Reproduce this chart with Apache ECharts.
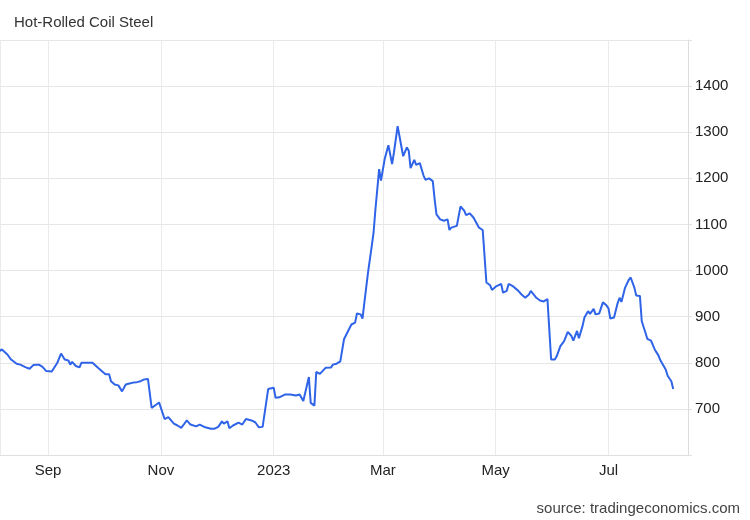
<!DOCTYPE html>
<html>
<head>
<meta charset="utf-8">
<script src="https://cdn.jsdelivr.net/npm/echarts@6/dist/echarts.min.js"></script>
<style>
html,body{margin:0;padding:0;background:#fff;}
#chart{width:750px;height:520px;}
</style>
</head>
<body>
<div id="chart"></div>
<script>
var titleText = 'Hot-Rolled Coil Steel';
var sourceText = 'source: tradingeconomics.com';
var monthNames = ['Jan','Feb','Mar','Apr','May','Jun','Jul','Aug','Sep','Oct','Nov','Dec'];
var yTicks = [700, 800, 900, 1000, 1100, 1200, 1300, 1400];

var dates = [
'2022-08-05','2022-08-07','2022-08-10','2022-08-12','2022-08-15','2022-08-17','2022-08-20','2022-08-22','2022-08-24','2022-08-27',
'2022-08-29','2022-08-31','2022-09-03','2022-09-04','2022-09-06','2022-09-08','2022-09-10','2022-09-12','2022-09-13','2022-09-14',
'2022-09-16','2022-09-18','2022-09-19','2022-09-22','2022-09-23','2022-09-25','2022-09-26','2022-09-28','2022-09-30','2022-10-02',
'2022-10-04','2022-10-05','2022-10-07','2022-10-09','2022-10-11','2022-10-13','2022-10-15','2022-10-17','2022-10-19','2022-10-21',
'2022-10-23','2022-10-24','2022-10-25','2022-10-27','2022-10-28','2022-10-31','2022-11-01','2022-11-03','2022-11-05','2022-11-06',
'2022-11-08','2022-11-10','2022-11-12','2022-11-13','2022-11-15','2022-11-17','2022-11-20','2022-11-22','2022-11-25','2022-11-28',
'2022-11-30','2022-12-02','2022-12-04','2022-12-05','2022-12-07','2022-12-08','2022-12-10','2022-12-13','2022-12-15','2022-12-17',
'2022-12-20','2022-12-22','2022-12-24','2022-12-26','2022-12-27','2022-12-29','2023-01-01','2023-01-02','2023-01-04','2023-01-07',
'2023-01-10','2023-01-13','2023-01-14','2023-01-15','2023-01-17','2023-01-18','2023-01-20','2023-01-21','2023-01-23','2023-01-24',
'2023-01-26','2023-01-27','2023-01-29','2023-02-01','2023-02-02','2023-02-04','2023-02-05','2023-02-06','2023-02-08','2023-02-09',
'2023-02-10','2023-02-12','2023-02-14','2023-02-15','2023-02-17','2023-02-18','2023-02-19','2023-02-21','2023-02-23','2023-02-24',
'2023-02-25','2023-02-27','2023-02-28','2023-03-02','2023-03-03','2023-03-04','2023-03-06','2023-03-07','2023-03-09','2023-03-12',
'2023-03-14','2023-03-15','2023-03-16','2023-03-18','2023-03-19','2023-03-21','2023-03-23','2023-03-24','2023-03-26','2023-03-28',
'2023-03-29','2023-03-30','2023-04-01','2023-04-03','2023-04-05','2023-04-06','2023-04-07','2023-04-10','2023-04-12','2023-04-14',
'2023-04-15','2023-04-17','2023-04-19','2023-04-20','2023-04-22','2023-04-24','2023-04-25','2023-04-26','2023-04-28','2023-04-29',
'2023-05-01','2023-05-02','2023-05-04','2023-05-05','2023-05-07','2023-05-08','2023-05-10','2023-05-13','2023-05-15','2023-05-17',
'2023-05-19','2023-05-20','2023-05-21','2023-05-23','2023-05-25','2023-05-26','2023-05-27','2023-05-29','2023-05-30','2023-05-31',
'2023-06-02','2023-06-03','2023-06-05','2023-06-07','2023-06-08','2023-06-09','2023-06-11','2023-06-12','2023-06-14','2023-06-15',
'2023-06-17','2023-06-18','2023-06-20','2023-06-21','2023-06-23','2023-06-24','2023-06-26','2023-06-27','2023-06-28','2023-06-30',
'2023-07-01','2023-07-02','2023-07-04','2023-07-06','2023-07-07','2023-07-08','2023-07-10','2023-07-12','2023-07-13','2023-07-15',
'2023-07-16','2023-07-18','2023-07-19','2023-07-21','2023-07-22','2023-07-24','2023-07-25','2023-07-26','2023-07-28','2023-07-29',
'2023-07-30','2023-08-01','2023-08-02','2023-08-04','2023-08-05'
];

var prices = [
823,829,818,807,798,796,790,787,795,796,
791,782,781,777,800,820,807,805,796,802,
793,790,800,800,803,800,803,789,782,775,
775,760,753,751,738,753,755,757,758,760,
764,760,765,702,698,714,712,678,682,678,
668,664,659,664,675,666,662,666,660,657,
657,661,673,668,673,658,664,670,666,678,
675,671,660,661,658,743,746,724,725,731,
731,729,727,731,717,719,769,713,707,780,
776,777,789,790,796,798,795,803,851,859,
861,883,887,907,905,896,930,996,1053,1083,
1133,1220,1195,1242,1239,1272,1231,1256,1313,1248,
1267,1260,1222,1240,1229,1233,1206,1197,1200,1194,
1155,1122,1111,1108,1111,1088,1093,1097,1139,1130,
1120,1124,1115,1117,1093,1088,1088,974,968,958,
965,961,971,952,956,971,967,957,948,941,
948,956,952,941,935,936,933,938,938,807,
807,814,836,847,851,867,858,848,869,853,
880,898,912,906,917,905,907,908,931,924,
918,896,898,930,941,932,963,980,985,963,
946,945,890,865,852,848,852,829,816,806,
802,785,772,760,743
];

var seriesData = dates.map(function (d, i) { return [d, prices[i]]; });

var chart = echarts.init(document.getElementById('chart'), null, {renderer: 'canvas'});
chart.setOption({
  animation: false,
  backgroundColor: '#ffffff',
  title: [
    { text: titleText, left: 9, top: 10,
      textStyle: { fontFamily: 'Liberation Sans, Arial, sans-serif', fontSize: 15, fontWeight: 'normal', color: '#333333' } },
    { text: sourceText, right: 5, top: 496,
      textStyle: { fontFamily: 'Liberation Sans, Arial, sans-serif', fontSize: 15, fontWeight: 'normal', color: '#444444' } }
  ],
  grid: { left: -1, right: 62, top: 40, bottom: 65, containLabel: false },
  xAxis: {
    type: 'time',
    min: '2022-08-06',
    max: '2023-08-13',
    splitNumber: 5,
    axisLine: { show: true, lineStyle: { color: '#e0e0e0', width: 1 } },
    axisTick: { show: false },
    splitLine: { show: true, lineStyle: { color: '#ebebeb', width: 1 } },
    minorSplitLine: { show: false },
    axisLabel: {
      margin: 8,
      fontFamily: 'Liberation Sans, Arial, sans-serif',
      fontSize: 15,
      color: '#222222',
      showMinLabel: false,
      showMaxLabel: false,
      formatter: function (value) {
        var d = new Date(value);
        if (d.getMonth() === 0) return String(d.getFullYear());
        return monthNames[d.getMonth()];
      }
    }
  },
  yAxis: {
    type: 'value',
    position: 'right',
    min: 600,
    max: 1500,
    interval: 100,
    axisLine: { show: true, lineStyle: { color: '#dcdcdc', width: 1 } },
    axisTick: { show: true, length: 4, lineStyle: { color: '#e0e0e0' } },
    splitLine: { show: true, lineStyle: { color: '#e6e6e6', width: 1 } },
    axisLabel: {
      margin: 7,
      fontFamily: 'Liberation Sans, Arial, sans-serif',
      fontSize: 15,
      color: '#222222',
      formatter: function (v) { return yTicks.indexOf(v) >= 0 ? String(v) : ''; }
    }
  },
  series: [{
    type: 'line',
    data: seriesData,
    showSymbol: false,
    symbol: 'none',
    clip: true,
    lineStyle: { color: '#2f64e8', width: 2 },
    itemStyle: { color: '#2f64e8' }
  }]
});
</script>
</body>
</html>
